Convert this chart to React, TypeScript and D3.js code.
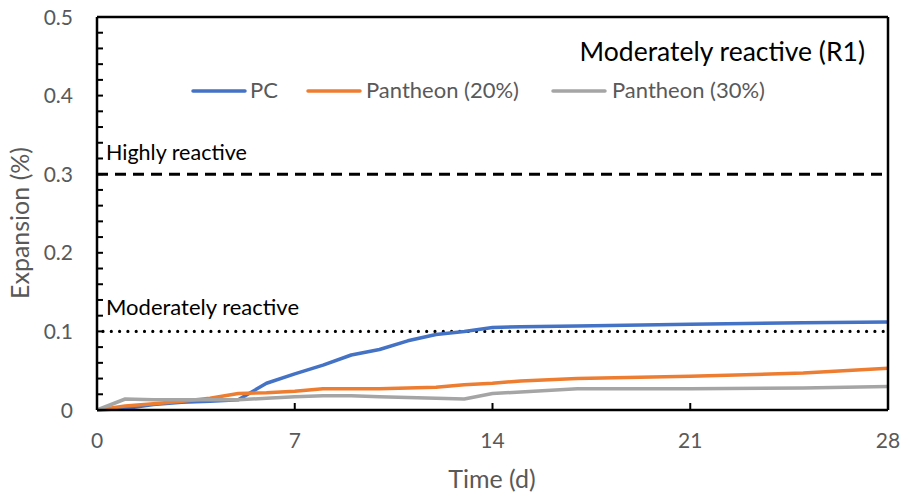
import React from "react";
import * as d3 from "d3";

const days = [0, 1, 2, 3, 4, 5, 6, 7, 8, 9, 10, 11, 12, 13, 14, 15, 17, 21, 25, 28];
const pcValues = [0, 0.002, 0.007, 0.010, 0.011, 0.013, 0.034, 0.046, 0.057, 0.070, 0.077, 0.088, 0.096, 0.100, 0.105, 0.106, 0.107, 0.109, 0.111, 0.112];
const p20Values = [0, 0.005, 0.008, 0.011, 0.015, 0.021, 0.022, 0.024, 0.027, 0.027, 0.027, 0.028, 0.029, 0.032, 0.034, 0.037, 0.040, 0.043, 0.047, 0.053];
const p30Values = [0, 0.014, 0.013, 0.013, 0.013, 0.013, 0.015, 0.017, 0.018, 0.018, 0.017, 0.016, 0.015, 0.014, 0.021, 0.023, 0.027, 0.027, 0.028, 0.030];
const seriesNames = ["PC", "Pantheon (20%)", "Pantheon (30%)"];
const seriesColors = ["#4472C4", "#ED7D31", "#A5A5A5"];
const xTicks = [0, 7, 14, 21, 28];
const yTicks = [0, 0.1, 0.2, 0.3, 0.4, 0.5];
const yMinorTicks = d3.range(0, 0.5001, 0.02);
const highlyLimit = 0.3;
const moderateLimit = 0.1;

const FONT = "Lato, 'Open Sans', sans-serif";

export default function App() {
  const W = 902, H = 496;
  const left = 97, right = 888, top = 17, bottom = 410;
  const x = d3.scaleLinear().domain([0, 28]).range([left, right]);
  const y = d3.scaleLinear().domain([0, 0.5]).range([bottom, top]);
  const line = d3.line<[number, number]>().x(d => x(d[0])).y(d => y(d[1]));
  const allSeries = [pcValues, p20Values, p30Values];

  const legendItems = [
    { x1: 193, tx: 250 },
    { x1: 308, tx: 366 },
    { x1: 553, tx: 612 },
  ];

  return (
    <svg width={W} height={H} style={{ position: "absolute", left: 0, top: 0, background: "#fff" }}>
      {/* reference lines */}
      <line x1={x(0)} x2={x(28)} y1={y(highlyLimit)} y2={y(highlyLimit)} stroke="#000" strokeWidth={3} strokeDasharray="11,7" />
      <line x1={x(0) + 6} x2={x(28) - 4} y1={y(moderateLimit)} y2={y(moderateLimit)} stroke="#000" strokeWidth={3.2} strokeDasharray="0,8.3" strokeLinecap="round" />
      <text x={106} y={160} fontFamily={FONT} fontSize={21.5} fill="#000">Highly reactive</text>
      <text x={106} y={315} fontFamily={FONT} fontSize={22} fill="#000">Moderately reactive</text>

      {/* series */}
      {allSeries.map((vals, i) => (
        <path key={i} d={line(days.map((d, j) => [d, vals[j]]) as [number, number][]) || ""} fill="none" stroke={seriesColors[i]} strokeWidth={3.5} strokeLinejoin="round" />
      ))}

      {/* frame */}
      <line x1={left} x2={right} y1={top} y2={top} stroke="#000" strokeWidth={2.5} />
      <line x1={right} x2={right} y1={top} y2={bottom} stroke="#000" strokeWidth={2.5} />
      <line x1={left} x2={right} y1={bottom} y2={bottom} stroke="#000" strokeWidth={2.5} />
      <line x1={left} x2={left} y1={top} y2={bottom} stroke="#000" strokeWidth={2.5} />

      {/* y ticks */}
      {yMinorTicks.map((t, i) => (
        <line key={"m" + i} x1={left} x2={left + 6} y1={y(t)} y2={y(t)} stroke="#000" strokeWidth={2} />
      ))}
      {yTicks.map(t => (
        <text key={"yl" + t} x={73} y={y(t) + 7.5} textAnchor="end" fontFamily={FONT} fontSize={21} fill="#595959">{t === 0 ? "0" : t.toFixed(1)}</text>
      ))}
      {/* x ticks */}
      {xTicks.map(t => (
        <g key={"xt" + t}>
          <line x1={x(t)} x2={x(t)} y1={bottom} y2={bottom - 7} stroke="#000" strokeWidth={2} />
          <text x={x(t)} y={448} textAnchor="middle" fontFamily={FONT} fontSize={21} fill="#595959">{t}</text>
        </g>
      ))}

      {/* axis titles */}
      <text x={492} y={488} textAnchor="middle" fontFamily={FONT} fontSize={25} fill="#595959">Time (d)</text>
      <text transform={`translate(29,223) rotate(-90)`} textAnchor="middle" fontFamily={FONT} fontSize={25} fill="#595959">Expansion (%)</text>

      {/* chart title */}
      <text x={865} y={61} textAnchor="end" fontFamily={FONT} fontSize={26.5} fill="#000">Moderately reactive (R1)</text>

      {/* legend */}
      {legendItems.map((l, i) => (
        <g key={"lg" + i}>
          <line x1={l.x1} x2={l.x1 + 52} y1={91} y2={91} stroke={seriesColors[i]} strokeWidth={3.5} strokeLinecap="round" />
          <text x={l.tx} y={98} fontFamily={FONT} fontSize={22} fill="#595959">{seriesNames[i]}</text>
        </g>
      ))}
    </svg>
  );
}
